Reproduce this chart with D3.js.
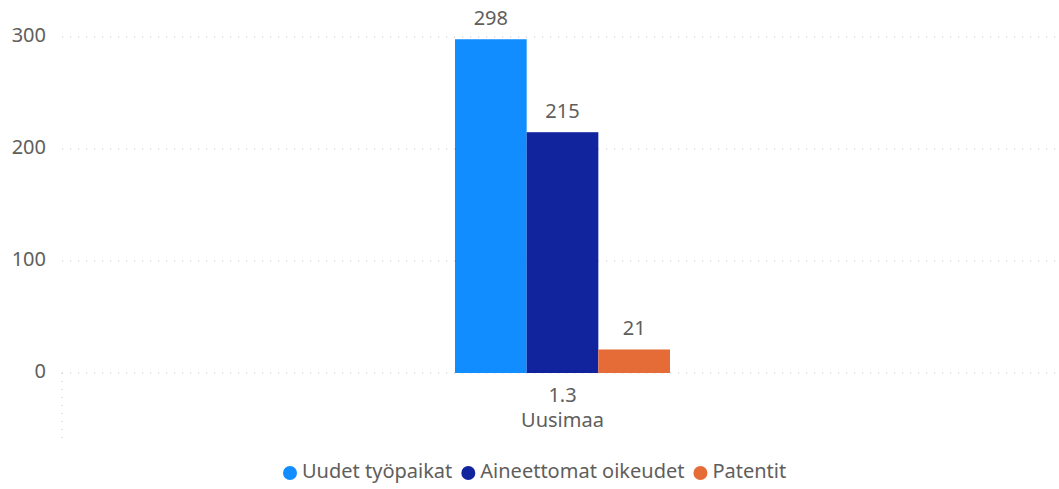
<!DOCTYPE html>
<html>
<head>
<meta charset="utf-8">
<script src="https://cdn.jsdelivr.net/npm/d3@7"></script>
<style>
  body { margin: 0; background: #fff; }
  text { font-family: "Segoe UI", "Noto Sans", sans-serif; fill: #605e5c; }
</style>
</head>
<body>
<svg id="chart" width="1059" height="489"></svg>
<script>
// data
const categories = ["Uusimaa"];
const subLabels = ["1.3"];
const seriesNames = ["Uudet työpaikat", "Aineettomat oikeudet", "Patentit"];
const seriesColors = ["#118DFF", "#12239E", "#E66C37"];
const uudetTyopaikat = [298];
const aineettomatOikeudet = [215];
const patentit = [21];
const yTicks = [0, 100, 200, 300];

const seriesValues = [uudetTyopaikat, aineettomatOikeudet, patentit];

const svg = d3.select("#chart");
const plotLeft = 62, plotRight = 1063, plotTop = 37, plotBottom = 373;
const fontSize = "20px";

// scales
const x0 = d3.scaleBand().domain(categories).range([plotLeft, plotRight])
    .paddingInner(0).paddingOuter(1.828);
const x1 = d3.scaleBand().domain(seriesNames).range([0, x0.bandwidth()]);
const y = d3.scaleLinear().domain([0, 300]).range([plotBottom, plotTop]);

// grid lines
svg.append("g").selectAll("line").data(yTicks).join("line")
    .attr("x1", plotLeft).attr("x2", 1059)
    .attr("y1", d => y(d)).attr("y2", d => y(d))
    .attr("stroke", "#c8c6c4").attr("stroke-width", 1)
    .attr("stroke-dasharray", "1 7");

// pystysuora pisteviiva nollan alla
svg.append("line")
    .attr("x1", plotLeft).attr("x2", plotLeft)
    .attr("y1", plotBottom).attr("y2", 438)
    .attr("stroke", "#c8c6c4").attr("stroke-dasharray", "1 7");

// y axis labels
svg.append("g").selectAll("text").data(yTicks).join("text")
    .attr("x", 46).attr("y", d => y(d))
    .attr("text-anchor", "end").attr("dominant-baseline", "middle")
    .style("font-size", fontSize)
    .text(d => d);

// bars
const groups = svg.append("g").selectAll("g").data(categories).join("g")
    .attr("transform", c => `translate(${x0(c)},0)`);

groups.each(function (c, ci) {
    const g = d3.select(this);
    seriesNames.forEach((s, si) => {
        const v = seriesValues[si][ci];
        g.append("rect")
            .attr("x", x1(s)).attr("width", x1.bandwidth())
            .attr("y", y(v)).attr("height", y(0) - y(v))
            .attr("fill", seriesColors[si]);
        g.append("text")
            .attr("x", x1(s) + x1.bandwidth() / 2).attr("y", y(v) - 14)
            .attr("text-anchor", "middle")
            .style("font-size", fontSize)
            .text(v);
    });
});

// category labels
svg.append("g").selectAll("text").data(categories).join("text")
    .attr("x", c => x0(c) + x0.bandwidth() / 2).attr("y", 402)
    .attr("text-anchor", "middle").style("font-size", fontSize)
    .text((c, i) => subLabels[i]);
svg.append("g").selectAll("text").data(categories).join("text")
    .attr("x", c => x0(c) + x0.bandwidth() / 2).attr("y", 427)
    .attr("text-anchor", "middle").style("font-size", fontSize)
    .text(c => c);

// legend
const legend = svg.append("g");
let lx = 283;
seriesNames.forEach((s, i) => {
    legend.append("circle")
        .attr("cx", lx + 7).attr("cy", 473).attr("r", 7)
        .attr("fill", seriesColors[i]);
    const t = legend.append("text")
        .attr("x", lx + 19).attr("y", 473)
        .attr("dominant-baseline", "middle")
        .style("font-size", fontSize)
        .text(s);
    lx += 19 + t.node().getComputedTextLength() + 9;
});
</script>
</body>
</html>
